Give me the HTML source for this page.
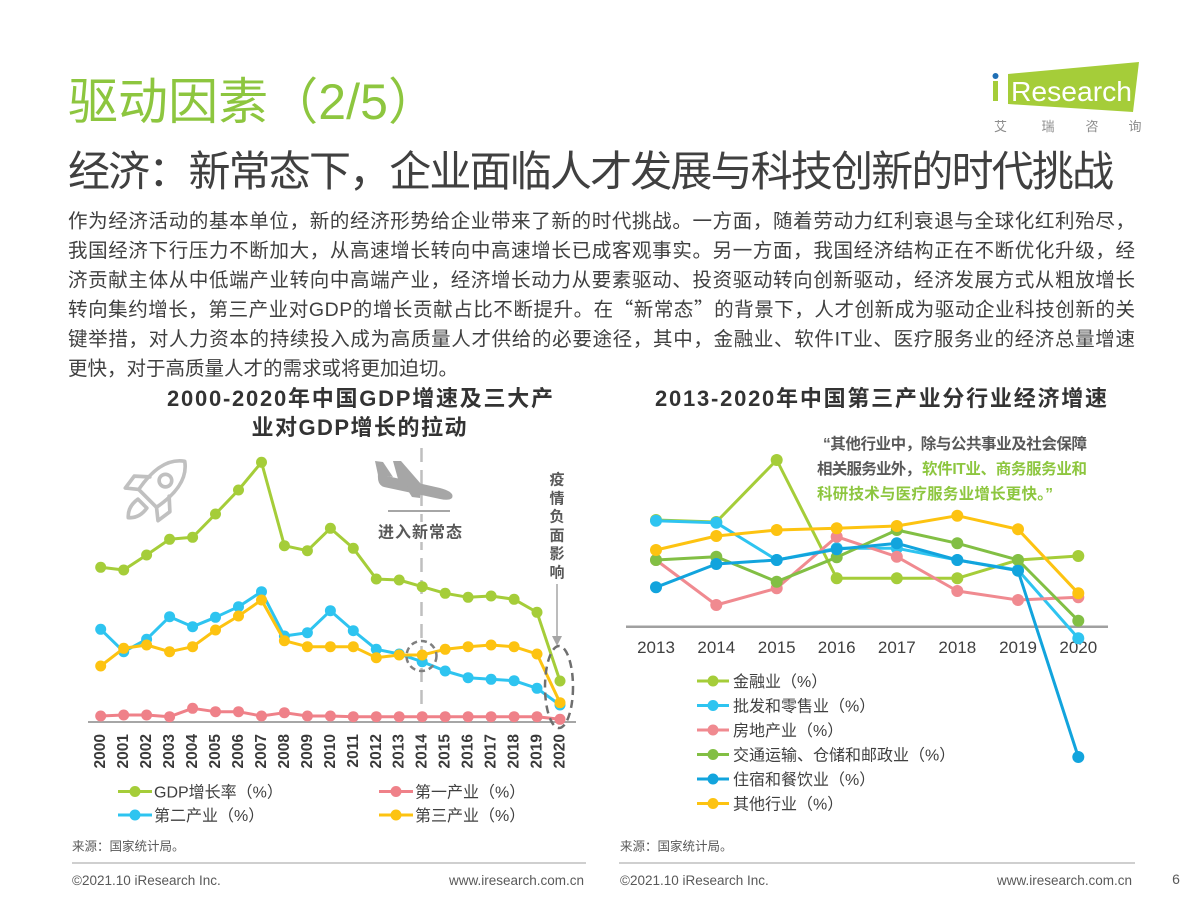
<!DOCTYPE html>
<html><head><meta charset="utf-8"><style>
html,body{margin:0;padding:0;background:#fff;}
svg{display:block;}
text{font-family:"Liberation Sans","Noto Sans CJK SC",sans-serif;}
</style></head><body>
<svg width="1200" height="900" viewBox="0 0 1200 900" xmlns="http://www.w3.org/2000/svg">
<defs>
<marker id="mLime" viewBox="-7 -7 14 14" markerWidth="14" markerHeight="14" markerUnits="userSpaceOnUse" refX="0" refY="0"><circle r="5.5" fill="#a5cd39"/></marker>
<marker id="mCyan" viewBox="-7 -7 14 14" markerWidth="14" markerHeight="14" markerUnits="userSpaceOnUse" refX="0" refY="0"><circle r="5.5" fill="#2ec4f0"/></marker>
<marker id="mPink" viewBox="-7 -7 14 14" markerWidth="14" markerHeight="14" markerUnits="userSpaceOnUse" refX="0" refY="0"><circle r="5.5" fill="#ef8189"/></marker>
<marker id="mYel" viewBox="-7 -7 14 14" markerWidth="14" markerHeight="14" markerUnits="userSpaceOnUse" refX="0" refY="0"><circle r="5.5" fill="#fdc311"/></marker>
<marker id="rLime" viewBox="-7 -7 14 14" markerWidth="14" markerHeight="14" markerUnits="userSpaceOnUse" refX="0" refY="0"><circle r="6" fill="#a5cd39"/></marker>
<marker id="rCyan" viewBox="-7 -7 14 14" markerWidth="14" markerHeight="14" markerUnits="userSpaceOnUse" refX="0" refY="0"><circle r="6" fill="#2ec4f0"/></marker>
<marker id="rPink" viewBox="-7 -7 14 14" markerWidth="14" markerHeight="14" markerUnits="userSpaceOnUse" refX="0" refY="0"><circle r="6" fill="#f08a90"/></marker>
<marker id="rGreen" viewBox="-7 -7 14 14" markerWidth="14" markerHeight="14" markerUnits="userSpaceOnUse" refX="0" refY="0"><circle r="6" fill="#82bf44"/></marker>
<marker id="rBlue" viewBox="-7 -7 14 14" markerWidth="14" markerHeight="14" markerUnits="userSpaceOnUse" refX="0" refY="0"><circle r="6" fill="#12a4dd"/></marker>
<marker id="rYel" viewBox="-7 -7 14 14" markerWidth="14" markerHeight="14" markerUnits="userSpaceOnUse" refX="0" refY="0"><circle r="6" fill="#fdc311"/></marker>
</defs>

<!-- Header -->
<text x="68" y="119" font-size="50" fill="#8dc63f" textLength="370" lengthAdjust="spacing">驱动因素（2/5）</text>
<text x="68" y="186" font-size="42" fill="#404040" textLength="1046" lengthAdjust="spacing">经济：新常态下，企业面临人才发展与科技创新的时代挑战</text>

<!-- Logo -->
<polygon points="1008,74 1139,62 1133,112 1008,104" fill="#a5cd39"/>
<circle cx="995.5" cy="76" r="3" fill="#1f6fb5"/>
<rect x="993" y="81" width="5" height="20" fill="#a5cd39"/>
<text x="1011" y="101" font-size="28" fill="#ffffff" textLength="121" lengthAdjust="spacingAndGlyphs">Research</text>
<text x="1000.5" y="131" font-size="13" fill="#8c8c8c" text-anchor="middle">艾</text>
<text x="1048" y="131" font-size="13" fill="#8c8c8c" text-anchor="middle">瑞</text>
<text x="1092" y="131" font-size="13" fill="#8c8c8c" text-anchor="middle">咨</text>
<text x="1135" y="131" font-size="13" fill="#8c8c8c" text-anchor="middle">询</text>

<!-- Body text -->
<g font-size="19.5" fill="#404040">
<text x="68" y="227.5" textLength="1067" lengthAdjust="spacing">作为经济活动的基本单位，新的经济形势给企业带来了新的时代挑战。一方面，随着劳动力红利衰退与全球化红利殆尽，</text>
<text x="68" y="257" textLength="1067" lengthAdjust="spacing">我国经济下行压力不断加大，从高速增长转向中高速增长已成客观事实。另一方面，我国经济结构正在不断优化升级，经</text>
<text x="68" y="286.5" textLength="1067" lengthAdjust="spacing">济贡献主体从中低端产业转向中高端产业，经济增长动力从要素驱动、投资驱动转向创新驱动，经济发展方式从粗放增长</text>
<text x="68" y="316" textLength="1067" lengthAdjust="spacing">转向集约增长，第三产业对GDP的增长贡献占比不断提升。在<tspan font-family="Noto Sans CJK SC">“</tspan>新常态<tspan font-family="Noto Sans CJK SC">”</tspan>的背景下，人才创新成为驱动企业科技创新的关</text>
<text x="68" y="345.5" textLength="1067" lengthAdjust="spacing">键举措，对人力资本的持续投入成为高质量人才供给的必要途径，其中，金融业、软件IT业、医疗服务业的经济总量增速</text>
<text x="68" y="375">更快，对于高质量人才的需求或将更加迫切。</text>
</g>

<!-- ===== Left chart ===== -->
<g font-size="22" font-weight="bold" fill="#333333" text-anchor="middle">
<text x="360" y="406" textLength="386" lengthAdjust="spacing">2000-2020年中国GDP增速及三大产</text>
<text x="359" y="435" textLength="215" lengthAdjust="spacing">业对GDP增长的拉动</text>
</g>

<!-- rocket -->
<g transform="translate(158,488) rotate(45) scale(1.05)" fill="none" stroke="#c0c0c0" stroke-width="3.5" stroke-linejoin="round" stroke-linecap="round">
<path d="M0,-36 C14,-26 16,-8 12,14 L-12,14 C-16,-8 -14,-26 0,-36 Z"/>
<circle cx="0" cy="-10" r="6"/>
<path d="M-13,-2 L-24,8 L-22,22 L-12,14"/>
<path d="M13,-2 L24,8 L22,22 L12,14"/>
<path d="M-6,21 Q-8,33 0,40 Q8,33 6,21 Z"/>
</g>

<!-- new normal dashed line -->
<line x1="421.5" y1="448" x2="421.5" y2="705" stroke="#bfbfbf" stroke-width="2.5" stroke-dasharray="14,8"/>
<!-- plane -->
<g fill="#a6a6a6">
<path d="M378,474 L440,488 Q455,492 452,498 Q449,501 440,499 L384,487 Q377,485 378,474 Z"/>
<path d="M378,475 L375,461 L383,462 L393,477 Z"/>
<path d="M398,479 L393,461 L401,461 L421,484 Z"/>
<path d="M405,486 L412,497 L420,498 L421,489 Z"/>
</g>
<line x1="388" y1="511" x2="450" y2="511" stroke="#a6a6a6" stroke-width="2"/>
<rect x="378" y="522" width="85" height="20" fill="#fff"/>
<text x="420" y="537.5" font-size="16" font-weight="bold" fill="#595959" text-anchor="middle" textLength="84" lengthAdjust="spacing">进入新常态</text>

<!-- epidemic annotation -->
<g font-size="15" font-weight="bold" fill="#595959" text-anchor="middle">
<text x="557" y="484.5">疫</text>
<text x="557" y="503.5">情</text>
<text x="557" y="521.5">负</text>
<text x="557" y="540.5">面</text>
<text x="557" y="558.5">影</text>
<text x="557" y="577.5">响</text>
</g>
<line x1="557" y1="584" x2="557" y2="638" stroke="#a6a6a6" stroke-width="1.5"/>
<polygon points="552,636 562,636 557,646" fill="#a6a6a6"/>

<!-- axis -->
<line x1="88" y1="722" x2="576" y2="722" stroke="#a6a6a6" stroke-width="2"/>

<g fill="none" stroke-width="3" stroke-linejoin="round">
<polyline stroke="#a5cd39" marker-start="url(#mLime)" marker-mid="url(#mLime)" marker-end="url(#mLime)" points="100.7,567.3 123.7,570 146.6,555 169.6,539.3 192.6,537.3 215.5,514 238.5,490 261.5,462.3 284.4,545.7 307.4,550.7 330.4,528.3 353.3,548.3 376.3,579 399.2,580 422.2,586.7 445.2,593.3 468.1,597.3 491.1,596 514.1,599.3 537,612.3 560,681"/>
<polyline stroke="#ef8189" marker-start="url(#mPink)" marker-mid="url(#mPink)" marker-end="url(#mPink)" points="100.7,716 123.7,715 146.6,715 169.6,716.7 192.6,708.3 215.5,711.7 238.5,711.7 261.5,716 284.4,712.7 307.4,716 330.4,716 353.3,716.7 376.3,716.7 399.2,716.7 422.2,716.7 445.2,716.7 468.1,716.7 491.1,716.7 514.1,716.7 537,716.7 560,719.3"/>
<polyline stroke="#2ec4f0" marker-start="url(#mCyan)" marker-mid="url(#mCyan)" marker-end="url(#mCyan)" points="100.7,629.3 123.7,651.7 146.6,639.3 169.6,616.7 192.6,626.7 215.5,617.3 238.5,606.7 261.5,591.7 284.4,636 307.4,632.7 330.4,610.7 353.3,630.7 376.3,649.3 399.2,654 422.2,661.7 445.2,671 468.1,677.7 491.1,679.3 514.1,680.7 537,688.3 560,705"/>
<polyline stroke="#fdc311" marker-start="url(#mYel)" marker-mid="url(#mYel)" marker-end="url(#mYel)" points="100.7,666 123.7,648.3 146.6,645 169.6,651.7 192.6,646.7 215.5,630 238.5,616 261.5,600 284.4,640.7 307.4,646.7 330.4,646.7 353.3,646.7 376.3,657.7 399.2,655 422.2,655 445.2,649.3 468.1,646.7 491.1,645 514.1,646.7 537,654 560,702.7"/>
</g>

<!-- dashed highlights -->
<circle cx="421.5" cy="656" r="15" fill="none" stroke="#7f7f7f" stroke-width="2.5" stroke-dasharray="6,4"/>
<ellipse cx="559" cy="687" rx="14" ry="41" fill="none" stroke="#6f6f6f" stroke-width="2.5" stroke-dasharray="8,5"/>

<!-- x labels rotated -->
<g font-size="15.5" font-weight="bold" fill="#3a3a3a" text-anchor="end" dominant-baseline="central">
<text transform="translate(100.7,734) rotate(-90)">2000</text>
<text transform="translate(123.7,734) rotate(-90)">2001</text>
<text transform="translate(146.6,734) rotate(-90)">2002</text>
<text transform="translate(169.6,734) rotate(-90)">2003</text>
<text transform="translate(192.6,734) rotate(-90)">2004</text>
<text transform="translate(215.5,734) rotate(-90)">2005</text>
<text transform="translate(238.5,734) rotate(-90)">2006</text>
<text transform="translate(261.5,734) rotate(-90)">2007</text>
<text transform="translate(284.4,734) rotate(-90)">2008</text>
<text transform="translate(307.4,734) rotate(-90)">2009</text>
<text transform="translate(330.4,734) rotate(-90)">2010</text>
<text transform="translate(353.3,734) rotate(-90)">2011</text>
<text transform="translate(376.3,734) rotate(-90)">2012</text>
<text transform="translate(399.2,734) rotate(-90)">2013</text>
<text transform="translate(422.2,734) rotate(-90)">2014</text>
<text transform="translate(445.2,734) rotate(-90)">2015</text>
<text transform="translate(468.1,734) rotate(-90)">2016</text>
<text transform="translate(491.1,734) rotate(-90)">2017</text>
<text transform="translate(514.1,734) rotate(-90)">2018</text>
<text transform="translate(537,734) rotate(-90)">2019</text>
<text transform="translate(560,734) rotate(-90)">2020</text>
</g>

<!-- left legend -->
<g stroke-width="3">
<line x1="118" y1="791.5" x2="152" y2="791.5" stroke="#a5cd39"/><circle cx="135" cy="791.5" r="5.5" fill="#a5cd39"/>
<line x1="118" y1="815" x2="152" y2="815" stroke="#2ec4f0"/><circle cx="135" cy="815" r="5.5" fill="#2ec4f0"/>
<line x1="379" y1="791.5" x2="413" y2="791.5" stroke="#ef8189"/><circle cx="396" cy="791.5" r="5.5" fill="#ef8189"/>
<line x1="379" y1="815" x2="413" y2="815" stroke="#fdc311"/><circle cx="396" cy="815" r="5.5" fill="#fdc311"/>
</g>
<g font-size="16" fill="#404040">
<text x="154" y="797.5">GDP增长率（%）</text>
<text x="154" y="821">第二产业（%）</text>
<text x="415" y="797.5">第一产业（%）</text>
<text x="415" y="821">第三产业（%）</text>
</g>

<!-- ===== Right chart ===== -->
<text x="881" y="406" font-size="22" font-weight="bold" fill="#333333" text-anchor="middle" textLength="452" lengthAdjust="spacing">2013-2020年中国第三产业分行业经济增速</text>

<g font-size="15.5" font-weight="bold">
<text x="823" y="449" fill="#595959" textLength="264" lengthAdjust="spacing">“其他行业中，除与公共事业及社会保障</text>
<text x="817" y="474" fill="#595959" textLength="104" lengthAdjust="spacing">相关服务业外，</text>
<text x="922" y="474" fill="#8dc63f" textLength="165" lengthAdjust="spacing">软件IT业、商务服务业和</text>
<text x="817" y="499" fill="#8dc63f" textLength="236" lengthAdjust="spacing">科研技术与医疗服务业增长更快。”</text>
</g>

<line x1="626" y1="626.7" x2="1108" y2="626.7" stroke="#a0a0a0" stroke-width="2.5"/>

<g font-size="17" fill="#404040" text-anchor="middle">
<text x="656" y="653">2013</text>
<text x="716.3" y="653">2014</text>
<text x="776.7" y="653">2015</text>
<text x="836.7" y="653">2016</text>
<text x="896.8" y="653">2017</text>
<text x="957.3" y="653">2018</text>
<text x="1018" y="653">2019</text>
<text x="1078.3" y="653">2020</text>
</g>

<g fill="none" stroke-width="3" stroke-linejoin="round">
<polyline stroke="#a5cd39" marker-start="url(#rLime)" marker-mid="url(#rLime)" marker-end="url(#rLime)" points="656,520 716.3,522 776.7,460 836.7,578.3 896.8,578.3 957.3,578.3 1018,560 1078.3,556"/>
<polyline stroke="#2ec4f0" marker-start="url(#rCyan)" marker-mid="url(#rCyan)" marker-end="url(#rCyan)" points="656,520.7 716.3,522.7 776.7,560 836.7,548.3 896.8,548.3 957.3,560 1018,570 1078.3,638.3"/>
<polyline stroke="#f08a90" marker-start="url(#rPink)" marker-mid="url(#rPink)" marker-end="url(#rPink)" points="656,560 716.3,605 776.7,588.3 836.7,536.7 896.8,556.7 957.3,591 1018,600 1078.3,597.3"/>
<polyline stroke="#82bf44" marker-start="url(#rGreen)" marker-mid="url(#rGreen)" marker-end="url(#rGreen)" points="656,560 716.3,556.7 776.7,581.7 836.7,557.3 896.8,530 957.3,543.3 1018,560 1078.3,620.7"/>
<polyline stroke="#12a4dd" marker-start="url(#rBlue)" marker-mid="url(#rBlue)" marker-end="url(#rBlue)" points="656,587.3 716.3,564 776.7,560 836.7,549.3 896.8,543.3 957.3,560 1018,570.7 1078.3,757"/>
<polyline stroke="#fdc311" marker-start="url(#rYel)" marker-mid="url(#rYel)" marker-end="url(#rYel)" points="656,550 716.3,536 776.7,530 836.7,528.3 896.8,526 957.3,515.7 1018,529.3 1078.3,593.3"/>
</g>

<!-- right legend -->
<g stroke-width="3">
<line x1="697" y1="681" x2="729" y2="681" stroke="#a5cd39"/><circle cx="713" cy="681" r="5.5" fill="#a5cd39"/>
<line x1="697" y1="705.5" x2="729" y2="705.5" stroke="#2ec4f0"/><circle cx="713" cy="705.5" r="5.5" fill="#2ec4f0"/>
<line x1="697" y1="730" x2="729" y2="730" stroke="#f08a90"/><circle cx="713" cy="730" r="5.5" fill="#f08a90"/>
<line x1="697" y1="754.5" x2="729" y2="754.5" stroke="#82bf44"/><circle cx="713" cy="754.5" r="5.5" fill="#82bf44"/>
<line x1="697" y1="779" x2="729" y2="779" stroke="#12a4dd"/><circle cx="713" cy="779" r="5.5" fill="#12a4dd"/>
<line x1="697" y1="803.5" x2="729" y2="803.5" stroke="#fdc311"/><circle cx="713" cy="803.5" r="5.5" fill="#fdc311"/>
</g>
<g font-size="16" fill="#404040">
<text x="733" y="687">金融业（%）</text>
<text x="733" y="711.5">批发和零售业（%）</text>
<text x="733" y="736">房地产业（%）</text>
<text x="733" y="760.5">交通运输、仓储和邮政业（%）</text>
<text x="733" y="785">住宿和餐饮业（%）</text>
<text x="733" y="809.5">其他行业（%）</text>
</g>

<!-- Sources & footer -->
<g font-size="12.5" fill="#595959">
<text x="72" y="850.5">来源：国家统计局。</text>
<text x="620" y="850.5">来源：国家统计局。</text>
</g>
<line x1="72" y1="863" x2="586" y2="863" stroke="#bfbfbf" stroke-width="1.5"/>
<line x1="619" y1="863" x2="1135" y2="863" stroke="#bfbfbf" stroke-width="1.5"/>
<g font-size="13.5" fill="#595959">
<text x="72" y="885">©2021.10 iResearch Inc.</text>
<text x="584" y="885" text-anchor="end">www.iresearch.com.cn</text>
<text x="620" y="885">©2021.10 iResearch Inc.</text>
<text x="1132" y="885" text-anchor="end">www.iresearch.com.cn</text>
<text x="1176" y="884" font-size="14" text-anchor="middle">6</text>
</g>
</svg>
</body></html>
